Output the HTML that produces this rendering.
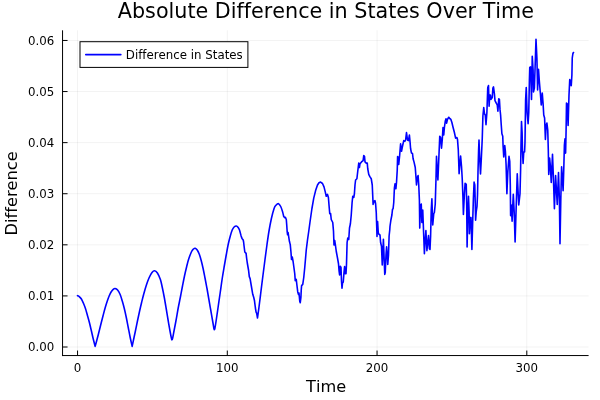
<!DOCTYPE html>
<html lang="en">
<head>
<meta charset="utf-8">
<title>Absolute Difference in States Over Time</title>
<style>
html,body{margin:0;padding:0;background:#fff;}
body{width:600px;height:400px;overflow:hidden;}
svg{display:block;will-change:transform;}
text{font-family:"DejaVu Sans","Liberation Sans",sans-serif;fill:#000;font-variant-ligatures:none;font-kerning:none;}
.t{font-size:20.7px;}
.g{font-size:16.2px;}
.k{font-size:11.8px;}
</style>
</head>
<body>
<svg width="600" height="400" viewBox="0 0 600 400">
<rect width="600" height="400" fill="#fff"/>
<g stroke="#000" stroke-opacity="0.05" stroke-width="1" fill="none"><line x1="77.55" y1="30.3" x2="77.55" y2="355.55"/><line x1="227.3" y1="30.3" x2="227.3" y2="355.55"/><line x1="377.05" y1="30.3" x2="377.05" y2="355.55"/><line x1="526.8" y1="30.3" x2="526.8" y2="355.55"/><line x1="62.55" y1="347.0" x2="588.6" y2="347.0"/><line x1="62.55" y1="295.91" x2="588.6" y2="295.91"/><line x1="62.55" y1="244.82" x2="588.6" y2="244.82"/><line x1="62.55" y1="193.73" x2="588.6" y2="193.73"/><line x1="62.55" y1="142.64" x2="588.6" y2="142.64"/><line x1="62.55" y1="91.55" x2="588.6" y2="91.55"/><line x1="62.55" y1="40.46" x2="588.6" y2="40.46"/></g>
<g stroke="#000" stroke-width="1" fill="none">
<line x1="62.55" y1="30.3" x2="62.55" y2="356.05"/>
<line x1="62.05" y1="355.55" x2="588.6" y2="355.55"/>
<line x1="77.55" y1="355.55" x2="77.55" y2="350.55"/><line x1="227.3" y1="355.55" x2="227.3" y2="350.55"/><line x1="377.05" y1="355.55" x2="377.05" y2="350.55"/><line x1="526.8" y1="355.55" x2="526.8" y2="350.55"/><line x1="62.55" y1="347.0" x2="67.55" y2="347.0"/><line x1="62.55" y1="295.91" x2="67.55" y2="295.91"/><line x1="62.55" y1="244.82" x2="67.55" y2="244.82"/><line x1="62.55" y1="193.73" x2="67.55" y2="193.73"/><line x1="62.55" y1="142.64" x2="67.55" y2="142.64"/><line x1="62.55" y1="91.55" x2="67.55" y2="91.55"/><line x1="62.55" y1="40.46" x2="67.55" y2="40.46"/>
</g>
<g class="k"><text x="77.55" y="371.5" text-anchor="middle">0</text><text x="227.3" y="371.5" text-anchor="middle">100</text><text x="377.05" y="371.5" text-anchor="middle">200</text><text x="526.8" y="371.5" text-anchor="middle">300</text><text x="54.4" y="351.25" text-anchor="end">0.00</text><text x="54.4" y="300.16" text-anchor="end">0.01</text><text x="54.4" y="249.07" text-anchor="end">0.02</text><text x="54.4" y="197.98" text-anchor="end">0.03</text><text x="54.4" y="146.89" text-anchor="end">0.04</text><text x="54.4" y="95.8" text-anchor="end">0.05</text><text x="54.4" y="44.71" text-anchor="end">0.06</text></g>
<text class="t" x="325.9" y="18.0" text-anchor="middle">Absolute Difference in States Over Time</text>
<text class="g" x="326.1" y="391.6" text-anchor="middle">Time</text>
<text class="g" transform="translate(16.6,193.4) rotate(-90)" text-anchor="middle">Difference</text>
<path d="M77.50,295.70 C77.78,295.85 78.55,296.05 79.20,296.60 C79.85,297.15 80.69,297.88 81.40,299.00 C82.11,300.12 82.78,301.72 83.45,303.30 C84.12,304.88 84.78,306.47 85.45,308.50 C86.12,310.53 86.79,313.17 87.45,315.50 C88.11,317.83 88.76,320.00 89.40,322.50 C90.04,325.00 90.67,327.78 91.30,330.50 C91.93,333.22 92.56,336.15 93.20,338.80 C93.84,341.45 94.83,345.13 95.15,346.40 C95.42,345.42 96.20,342.57 96.75,340.50 C97.30,338.43 97.78,336.67 98.45,334.00 C99.12,331.33 100.03,327.58 100.80,324.50 C101.57,321.42 102.36,318.33 103.10,315.50 C103.84,312.67 104.55,309.92 105.25,307.50 C105.95,305.08 106.63,302.95 107.30,301.00 C107.97,299.05 108.62,297.30 109.25,295.80 C109.88,294.30 110.44,293.08 111.10,292.00 C111.76,290.92 112.53,289.89 113.20,289.30 C113.87,288.71 114.37,288.33 115.10,288.45 C115.83,288.57 116.76,288.99 117.60,290.00 C118.44,291.01 119.38,292.70 120.15,294.50 C120.92,296.30 121.51,298.47 122.20,300.80 C122.89,303.13 123.62,305.72 124.30,308.50 C124.98,311.28 125.64,314.33 126.30,317.50 C126.96,320.67 127.60,324.17 128.25,327.50 C128.90,330.83 129.55,334.35 130.20,337.50 C130.85,340.65 131.82,344.92 132.15,346.40 C132.39,345.25 133.09,341.90 133.60,339.50 C134.11,337.10 134.57,335.00 135.20,332.00 C135.82,329.00 136.63,324.92 137.35,321.50 C138.07,318.08 138.79,314.67 139.50,311.50 C140.21,308.33 140.89,305.42 141.60,302.50 C142.31,299.58 142.95,296.92 143.75,294.00 C144.55,291.08 145.53,287.67 146.40,285.00 C147.28,282.33 148.07,280.08 149.00,278.00 C149.93,275.92 151.07,273.72 152.00,272.50 C152.93,271.28 153.70,270.62 154.60,270.70 C155.50,270.78 156.43,271.53 157.40,273.00 C158.37,274.47 159.58,277.08 160.40,279.50 C161.22,281.92 161.67,284.58 162.30,287.50 C162.93,290.42 163.57,293.58 164.20,297.00 C164.83,300.42 165.47,304.25 166.10,308.00 C166.73,311.75 167.35,315.67 168.00,319.50 C168.65,323.33 169.42,327.82 170.00,331.00 C170.58,334.18 171.16,337.13 171.50,338.60 C171.84,340.07 171.87,339.83 172.05,339.80 C172.23,339.77 172.28,339.87 172.60,338.40 C172.92,336.93 173.42,334.07 174.00,331.00 C174.58,327.93 175.40,323.83 176.10,320.00 C176.80,316.17 177.48,311.83 178.20,308.00 C178.92,304.17 179.68,300.67 180.40,297.00 C181.12,293.33 181.80,289.58 182.50,286.00 C183.20,282.42 183.90,278.75 184.60,275.50 C185.30,272.25 186.02,269.25 186.70,266.50 C187.38,263.75 187.88,261.50 188.70,259.00 C189.52,256.50 190.80,253.17 191.60,251.50 C192.40,249.83 192.90,249.53 193.50,249.00 C194.10,248.47 194.58,248.13 195.20,248.30 C195.82,248.47 196.53,249.05 197.20,250.00 C197.87,250.95 198.53,252.25 199.20,254.00 C199.87,255.75 200.55,258.08 201.20,260.50 C201.85,262.92 202.47,265.58 203.10,268.50 C203.73,271.42 204.35,274.67 205.00,278.00 C205.65,281.33 206.35,284.92 207.00,288.50 C207.65,292.08 208.25,295.75 208.90,299.50 C209.55,303.25 210.23,307.17 210.90,311.00 C211.57,314.83 212.40,319.57 212.90,322.50 C213.40,325.43 213.65,327.38 213.90,328.60 C214.15,329.82 214.23,329.83 214.40,329.80 C214.57,329.77 214.62,329.87 214.90,328.40 C215.18,326.93 215.55,324.65 216.10,321.00 C216.65,317.35 217.50,311.33 218.20,306.50 C218.90,301.67 219.62,296.75 220.30,292.00 C220.98,287.25 221.63,282.33 222.30,278.00 C222.97,273.67 223.63,269.92 224.30,266.00 C224.97,262.08 225.63,258.17 226.30,254.50 C226.97,250.83 227.63,247.08 228.30,244.00 C228.97,240.92 229.65,238.33 230.30,236.00 C230.95,233.67 231.57,231.50 232.20,230.00 C232.83,228.50 233.40,227.67 234.10,227.00 C234.80,226.33 235.75,225.95 236.40,226.00 C237.05,226.05 237.48,226.63 238.00,227.30 C238.52,227.97 238.98,228.55 239.50,230.00 C240.02,231.45 240.83,235.00 241.10,236.00 L242.00,238.40 L243.20,239.90 L243.60,242.00 L244.00,245.50 L244.80,252.00 L245.40,252.60 L246.10,253.40 L246.60,258.00 L247.30,263.00 L248.60,270.50 L249.30,276.60 L250.10,278.60 L251.25,285.50 L252.75,294.30 L253.70,297.20 L254.40,300.20 L255.40,308.00 L256.10,312.20 L256.70,313.40 L257.50,318.00 C257.75,316.17 258.42,311.50 259.00,307.00 C259.58,302.50 260.33,296.33 261.00,291.00 C261.67,285.67 262.33,280.25 263.00,275.00 C263.67,269.75 264.33,264.58 265.00,259.50 C265.67,254.42 266.33,249.25 267.00,244.50 C267.67,239.75 268.27,235.29 269.00,231.00 C269.73,226.71 270.52,222.46 271.35,218.75 C272.18,215.04 273.23,211.01 274.00,208.75 C274.77,206.49 275.25,206.04 276.00,205.20 C276.75,204.36 277.72,203.48 278.50,203.70 C279.28,203.92 280.03,205.20 280.70,206.50 C281.37,207.80 281.99,209.83 282.50,211.50 C283.01,213.17 283.54,215.67 283.75,216.50 L284.60,217.60 L285.40,217.40 L286.30,219.50 L286.80,226.00 L287.20,232.00 L287.60,234.80 L288.10,232.50 L288.60,236.00 L289.40,241.30 L290.25,244.60 L291.00,252.50 L291.50,259.50 L292.25,257.00 L293.10,261.50 L293.75,266.25 L294.75,273.75 L295.25,280.60 L296.25,279.40 L296.90,285.00 L297.75,291.90 L298.50,294.40 L299.00,293.00 L299.75,301.25 L300.25,302.75 L300.90,297.50 L301.25,290.00 L301.60,285.60 L302.75,284.40 L303.75,277.50 L304.75,267.50 L305.40,260.00 L306.25,250.00 L307.50,240.00 L308.75,231.25 L310.00,222.00 L311.90,208.75 L313.75,198.10 L315.60,190.60 L317.50,185.00 L319.00,182.75 L320.60,182.10 L322.50,183.50 L324.00,186.90 L325.25,191.90 L326.25,196.25 L327.50,194.40 L328.40,197.50 L329.00,205.00 L329.75,213.75 L330.60,213.50 L331.25,219.50 L332.75,222.50 L333.50,231.25 L334.00,245.00 L334.75,240.60 L335.40,245.00 L336.25,251.25 L337.50,258.00 L338.50,263.75 L339.10,271.25 L339.60,275.00 L340.25,266.25 L341.00,267.50 L341.50,281.25 L342.00,288.10 L342.50,283.10 L343.25,282.00 L344.00,272.50 L344.60,266.50 L345.25,273.75 L346.00,273.75 L346.50,264.00 L347.10,242.50 L347.75,238.10 L348.75,239.50 L349.50,228.00 L350.40,223.75 L351.25,215.00 L352.10,202.50 L352.75,196.25 L353.75,197.50 L354.40,193.75 L355.00,185.00 L355.60,180.00 L356.90,178.75 L357.75,171.25 L358.75,163.10 L359.40,167.50 L360.00,163.75 L361.50,161.90 L363.10,160.60 L363.75,155.60 L364.50,156.25 L365.00,161.90 L366.25,163.10 L367.25,163.10 L367.75,168.75 L368.75,174.40 L370.00,176.90 L371.25,178.75 L372.25,185.00 L372.75,196.25 L373.10,204.40 L374.00,201.25 L375.00,200.60 L375.60,203.75 L376.25,212.50 L376.70,226.00 L377.00,236.50 L377.60,221.50 L378.25,232.50 L379.00,234.40 L380.00,235.00 L380.60,242.50 L381.50,246.25 L382.25,265.00 L382.75,255.00 L383.40,239.40 L384.00,255.00 L384.75,274.40 L385.25,272.50 L386.00,255.00 L386.60,246.90 L387.25,255.00 L387.75,264.40 L388.50,255.00 L389.10,236.00 L389.75,230.00 L390.00,226.25 L390.90,220.00 L391.90,215.00 L392.50,209.40 L393.10,208.75 L393.75,202.50 L394.40,188.00 L395.00,183.75 L395.90,188.75 L396.50,182.50 L397.25,170.00 L397.60,156.50 L398.20,157.20 L398.75,164.50 L399.60,156.00 L400.60,143.75 L401.50,151.25 L402.50,146.25 L403.75,140.60 L405.00,141.25 L405.60,140.00 L406.50,132.50 L407.50,140.00 L408.50,140.60 L409.40,135.00 L410.00,141.25 L410.60,148.75 L411.50,153.10 L412.50,153.50 L413.10,158.75 L414.00,161.90 L415.25,167.50 L416.00,177.50 L416.50,185.00 L417.25,177.50 L418.10,175.60 L418.75,185.00 L419.40,200.00 L419.75,228.10 L420.40,206.00 L421.25,204.00 L421.90,222.50 L422.75,210.00 L423.50,230.00 L424.40,253.75 L425.00,242.50 L425.90,230.60 L426.90,250.60 L427.75,242.50 L428.50,235.60 L429.40,248.75 L430.00,249.40 L430.60,236.25 L431.25,210.00 L431.90,198.75 L432.75,225.00 L433.75,213.75 L434.40,212.50 L435.25,204.00 L435.60,192.00 L436.00,178.75 L436.50,156.25 L437.20,170.00 L437.90,180.00 L438.75,160.00 L439.75,136.25 L440.60,137.50 L441.50,148.10 L442.25,140.00 L443.00,127.50 L443.75,135.00 L444.40,127.50 L445.25,121.25 L446.00,118.75 L446.60,123.10 L447.50,119.40 L448.75,117.25 L450.00,118.75 L450.90,119.40 L451.90,122.50 L453.10,127.50 L454.40,132.50 L455.60,138.10 L456.90,137.50 L457.50,139.40 L458.30,150.00 L459.10,173.60 L459.80,165.00 L460.60,156.00 L461.50,166.25 L462.20,178.00 L462.90,196.00 L463.40,214.40 L464.30,196.00 L465.10,183.25 L466.25,184.40 L466.70,205.00 L467.10,246.90 L467.80,215.00 L468.50,196.40 L469.10,212.00 L469.40,233.75 L470.25,217.50 L471.00,217.50 L471.90,249.40 L472.60,225.00 L473.40,198.00 L474.10,182.10 L474.80,185.00 L475.25,203.00 L475.60,220.30 L476.20,212.00 L477.00,206.50 L477.50,195.00 L478.00,172.00 L478.60,150.00 L479.00,140.00 L479.70,158.00 L480.50,174.00 L481.25,160.00 L482.25,138.75 L482.90,116.00 L483.75,107.50 L484.50,113.75 L485.25,115.00 L486.00,124.80 L486.90,112.50 L487.75,87.50 L488.50,85.60 L489.10,106.25 L489.75,95.00 L490.40,95.00 L491.00,99.40 L492.25,97.50 L492.90,88.10 L493.50,86.90 L494.40,93.75 L495.00,100.60 L496.25,103.10 L497.25,105.00 L497.90,111.25 L498.75,98.75 L499.40,99.40 L500.00,109.40 L500.60,115.00 L501.25,125.00 L501.90,133.75 L502.75,136.25 L503.10,146.25 L503.75,156.90 L504.75,145.60 L505.40,151.25 L506.10,165.00 L506.90,193.75 L507.80,172.00 L509.00,156.25 L509.75,161.25 L510.30,185.00 L510.60,215.60 L511.30,205.00 L512.10,221.25 L512.80,205.00 L513.30,194.40 L514.20,212.00 L515.10,241.90 L516.25,205.00 L517.25,173.75 L518.10,192.00 L518.75,205.00 L520.00,193.75 L520.60,170.00 L521.00,145.00 L521.50,121.50 L522.10,132.50 L522.50,151.25 L523.10,163.50 L523.75,152.00 L524.60,152.00 L525.00,142.00 L525.60,100.00 L526.25,87.50 L527.10,112.50 L528.10,123.75 L528.75,112.50 L529.40,80.00 L529.75,67.50 L530.60,66.90 L531.50,99.40 L532.25,56.25 L533.10,70.00 L533.50,91.90 L534.40,88.00 L535.00,70.00 L536.00,39.40 L536.90,58.00 L537.60,90.00 L538.50,69.40 L539.40,82.00 L540.40,93.75 L541.25,105.00 L542.25,93.10 L543.10,103.75 L543.75,115.00 L544.60,118.00 L545.40,139.40 L546.25,125.00 L546.90,123.10 L547.75,130.00 L548.30,150.00 L548.75,174.40 L549.60,158.00 L550.30,165.00 L551.25,182.50 L552.50,154.40 L553.40,177.50 L554.40,208.75 L555.60,175.60 L557.25,204.40 L558.50,172.50 L559.40,200.00 L560.00,243.75 L560.80,200.00 L561.60,166.90 L562.50,180.00 L563.10,190.60 L563.75,170.00 L564.40,145.00 L565.00,138.75 L565.60,153.10 L566.10,130.00 L566.50,103.10 L567.25,103.75 L568.10,125.50 L569.00,95.00 L569.75,79.50 L570.60,84.00 L571.25,85.60 L571.90,75.00 L572.25,58.00 L572.90,53.50 L573.50,52.50" fill="none" stroke="#0000ff" stroke-width="1.6" stroke-linejoin="round" stroke-linecap="round"/>
<rect x="80.0" y="41.7" width="167.9" height="25.7" fill="#fff" stroke="#000" stroke-width="1"/>
<line x1="85.8" y1="54.55" x2="120.8" y2="54.55" stroke="#0000ff" stroke-width="1.7" stroke-linecap="round"/>
<text class="k" x="125.8" y="58.8">Difference in States</text>
</svg>
</body>
</html>
